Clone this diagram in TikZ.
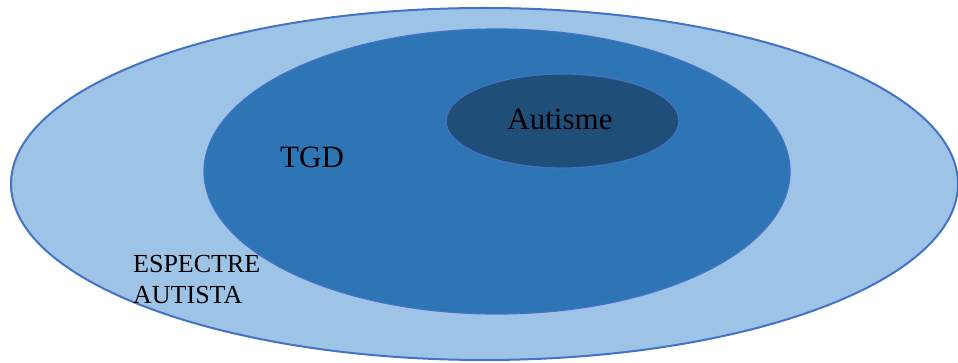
\documentclass[tikz,border=0pt]{standalone}
\usepackage{fontspec}
\setmainfont{Liberation Serif}
\definecolor{lightfill}{HTML}{9DC3E6}
\definecolor{midfill}{HTML}{2E75B6}
\definecolor{darkfill}{HTML}{1F4E79}
\definecolor{edgeblue}{HTML}{4472C4}
\begin{document}
\begin{tikzpicture}[x=1pt,y=1pt,
  ring/.style={draw=edgeblue, line width=1.2pt},
  lbl/.style={text=black, inner sep=0pt}]
\useasboundingbox (0,0) rectangle (958,363);
\path[ring, fill=lightfill, line width=2pt] (484.5,179) ellipse [x radius=473.5, y radius=176];
\path[ring, fill=midfill] (497,191.5) ellipse [x radius=293, y radius=142.5];
\path[ring, fill=darkfill] (562.5,242) ellipse [x radius=116.5, y radius=47];
\node[lbl, anchor=base, font=\fontsize{31}{36}\selectfont] (autisme) at (560,233) {Autisme};
\node[lbl, anchor=base west, font=\fontsize{31}{36}\selectfont] (tgd) at (280,195) {TGD};
\node[lbl, anchor=north west, align=left, font=\fontsize{26}{31}\selectfont] (espectre) at (133,108) {ESPECTRE\\AUTISTA};
\end{tikzpicture}
\end{document}
